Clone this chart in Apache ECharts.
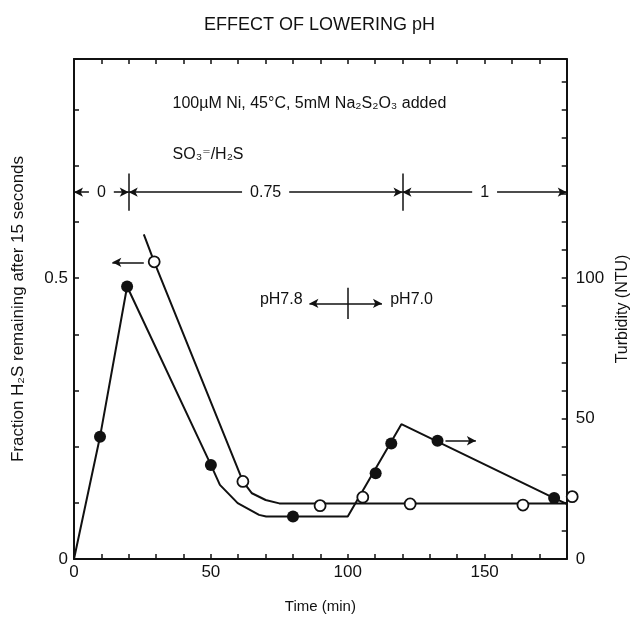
<!DOCTYPE html>
<html><head><meta charset="utf-8">
<script src="https://cdn.jsdelivr.net/npm/echarts@6/dist/echarts.min.js"></script>
<style>html,body{margin:0;padding:0;background:#fff}#c{width:639px;height:635px}</style>
</head><body><div id="c"></div>
<script>
// ---- text ----
const titleText = 'EFFECT OF LOWERING pH';
const conditionText = '100\u00b5M Ni, 45\u00b0C, 5mM Na\u2082S\u2082O\u2083 added';
const ratioTitle = 'SO\u2083\u207c/H\u2082S';
const xName = 'Time (min)';
const yLeftName = 'Fraction H\u2082S remaining after 15 seconds';
const yRightName = 'Turbidity (NTU)';

// ---- tick labels ----
const xTickLabels = [0, 50, 100, 150];
const leftTickLabels = [0, 0.5];
const rightTickLabels = [0, 50, 100];

// ---- open circles: fraction H2S (left axis) ----
const h2sTime = [29.3, 61.7, 89.9, 105.5, 122.8, 164, 182];
const h2sFraction = [0.529, 0.138, 0.095, 0.110, 0.098, 0.096, 0.111];
const h2sCurveTime = [25.5, 29.3, 61.7, 65, 70, 75, 180];
const h2sCurveFraction = [0.578, 0.529, 0.138, 0.117, 0.105, 0.099, 0.099];

// ---- filled circles: turbidity (right axis) ----
const turbTime = [9.5, 19.4, 50, 80, 110.2, 115.9, 132.8, 175.4];
const turbNTU = [43.5, 97, 33.5, 15.1, 30.5, 41.1, 42.1, 21.7];
const turbCurveTime = [0, 9.5, 19.4, 50, 53.3, 59.8, 67.6, 70.2, 100, 119.6, 175.4, 180];
const turbCurveNTU = [0, 43.5, 97, 33.5, 26.4, 19.9, 15.7, 15.1, 15.1, 48, 21.7, 19.6];

// ---- annotations (data coordinates) ----
const ratioBounds = [0, 20, 120, 180];
const ratioLabels = ['0', '0.75', '1'];
const ratioLevel = 0.653;
const phBoundary = 100;
const phArrowEnds = [86, 112.5];
const phLevel = 0.455;
const phLabels = ['pH7.8', 'pH7.0'];
const h2sArrow = [25.5, 14, 0.528];
const turbArrow = [135.7, 146.8, 42.1];

const FONT = '"Liberation Sans", "DejaVu Sans", sans-serif';
const INK = '#111';
const near = (v, list) => list.some(t => Math.abs(v - t) < 1e-6);
const pairs = (xs, ys) => xs.map((x, i) => [x, ys[i]]);

const chart = echarts.init(document.getElementById('c'));

const axisLine = {show: true, onZero: false, lineStyle: {color: INK, width: 2}};
const axisTick = {show: true, inside: true, length: 5, lineStyle: {color: INK, width: 1.5}};
const lbl = {fontFamily: FONT, fontSize: 17, color: INK};

function seg(x1, y1, x2, y2, s1, s2) {
  return [
    {coord: [x1, y1], symbol: s1, symbolSize: [7, 9]},
    {coord: [x2, y2], symbol: s2, symbolSize: [7, 9]}
  ];
}

const leftMarks = [];
for (let i = 0; i < ratioLabels.length; i++) {
  leftMarks.push(seg(ratioBounds[i], ratioLevel, ratioBounds[i + 1], ratioLevel, 'arrow', 'arrow'));
}
leftMarks.push(seg(ratioBounds[1], ratioLevel - 0.033, ratioBounds[1], ratioLevel + 0.033, 'none', 'none'));
leftMarks.push(seg(ratioBounds[2], ratioLevel - 0.033, ratioBounds[2], ratioLevel + 0.033, 'none', 'none'));
leftMarks.push(seg(phArrowEnds[0], phLevel, phArrowEnds[1], phLevel, 'arrow', 'arrow'));
leftMarks.push(seg(phBoundary, phLevel - 0.028, phBoundary, phLevel + 0.028, 'none', 'none'));
leftMarks.push(seg(h2sArrow[0], h2sArrow[2], h2sArrow[1], h2sArrow[2], 'none', 'arrow'));

const rightMarks = [seg(turbArrow[0], turbArrow[2], turbArrow[1], turbArrow[2], 'none', 'arrow')];

const markLineBase = {
  silent: true, animation: false,
  lineStyle: {color: INK, width: 1.5, type: 'solid'},
  label: {show: false}
};

chart.setOption({
  animation: false,
  backgroundColor: '#fff',
  title: {text: titleText, left: 'center', top: 11,
    textStyle: {fontFamily: FONT, fontSize: 18, fontWeight: 'normal', color: INK}},
  grid: {left: 74, right: 61, top: 59, bottom: 76},
  xAxis: [
    {type: 'value', min: 0, max: 180, interval: 10, position: 'bottom',
     name: xName, nameLocation: 'middle', nameGap: 40,
     nameTextStyle: {fontFamily: FONT, fontSize: 15, color: INK},
     axisLine, axisTick,
     axisLabel: Object.assign({formatter: v => near(v, xTickLabels) ? String(v) : '', margin: 5}, lbl),
     splitLine: {show: false}},
    {type: 'value', min: 0, max: 180, interval: 10, position: 'top',
     axisLine, axisTick, axisLabel: {show: false}, splitLine: {show: false}}
  ],
  yAxis: [
    {type: 'value', min: 0, max: 0.89, interval: 0.1, position: 'left',
     name: yLeftName, nameLocation: 'middle', nameGap: 47, nameRotate: 90,
     nameTextStyle: {fontFamily: FONT, fontSize: 17, color: INK},
     axisLine, axisTick,
     axisLabel: Object.assign({formatter: v => near(v, leftTickLabels) ? String(v) : '', margin: 6}, lbl),
     splitLine: {show: false}},
    {type: 'value', min: 0, max: 178, interval: 10, position: 'right',
     name: yRightName, nameLocation: 'middle', nameGap: 40, nameRotate: 90,
     nameTextStyle: {fontFamily: FONT, fontSize: 16, color: INK},
     axisLine, axisTick,
     axisLabel: Object.assign({formatter: v => near(v, rightTickLabels) ? String(v) : '', margin: 9}, lbl),
     splitLine: {show: false}}
  ],
  series: [
    {type: 'line', name: 'h2sCurve', xAxisIndex: 0, yAxisIndex: 0,
     data: pairs(h2sCurveTime, h2sCurveFraction), showSymbol: false, symbol: 'none',
     lineStyle: {color: INK, width: 2}, z: 2, clip: false,
     markLine: Object.assign({data: leftMarks}, markLineBase)},
    {type: 'line', name: 'turbCurve', xAxisIndex: 0, yAxisIndex: 1,
     data: pairs(turbCurveTime, turbCurveNTU), showSymbol: false, symbol: 'none',
     lineStyle: {color: INK, width: 2}, z: 2, clip: false,
     markLine: Object.assign({data: rightMarks}, markLineBase)},
    {type: 'scatter', name: 'h2s', xAxisIndex: 0, yAxisIndex: 0,
     data: pairs(h2sTime, h2sFraction), symbol: 'circle', symbolSize: 11, clip: false,
     itemStyle: {color: '#fff', borderColor: INK, borderWidth: 1.8, opacity: 1}, z: 5},
    {type: 'scatter', name: 'turb', xAxisIndex: 0, yAxisIndex: 1,
     data: pairs(turbTime, turbNTU), symbol: 'circle', symbolSize: 12, clip: false,
     itemStyle: {color: INK, opacity: 1}, z: 5}
  ]
});

function px(yIdx, x, y) { return chart.convertToPixel({xAxisIndex: 0, yAxisIndex: yIdx}, [x, y]); }
function txt(text, p, align, size, extra) {
  return {type: 'text', z: 100, x: p[0], y: p[1],
    style: Object.assign({text, fill: INK, font: size + 'px ' + FONT, align, verticalAlign: 'middle'}, extra || {})};
}
const g = [];
g.push(txt(conditionText, px(0, 86, 0.811), 'center', 16));
g.push(txt(ratioTitle, px(0, 36, 0.719), 'left', 16));
for (let i = 0; i < ratioLabels.length; i++) {
  const mid = (ratioBounds[i] + ratioBounds[i + 1]) / 2;
  g.push(txt(ratioLabels[i], px(0, mid, ratioLevel), 'center', 16,
    {backgroundColor: '#fff', padding: [2, 8, 2, 8]}));
}
g.push(txt(phLabels[0], px(0, phArrowEnds[0] - 2.5, phLevel + 0.006), 'right', 16));
g.push(txt(phLabels[1], px(0, phArrowEnds[1] + 3, phLevel + 0.006), 'left', 16));
chart.setOption({graphic: g});
</script>
</body></html>
